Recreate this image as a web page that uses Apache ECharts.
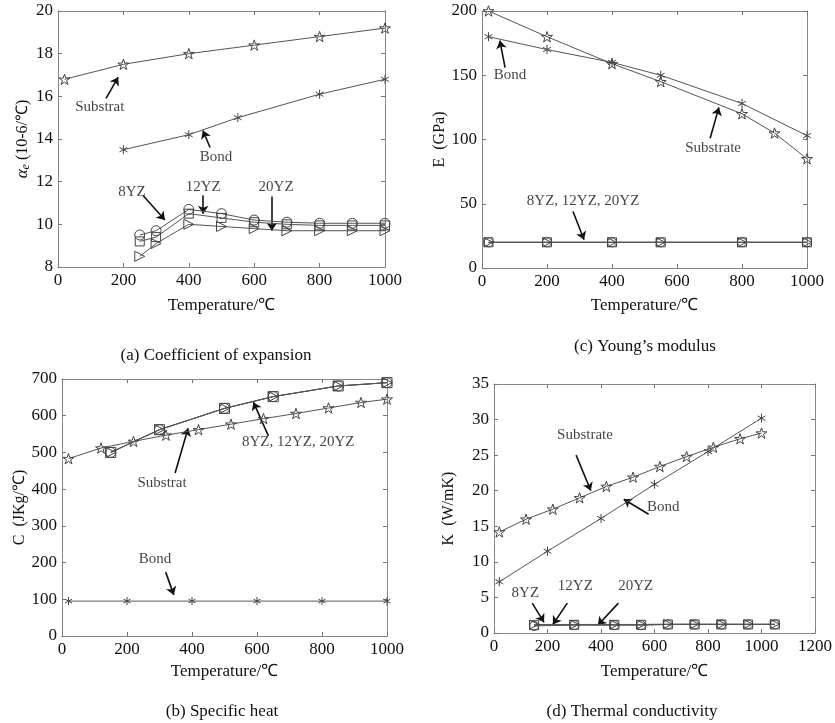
<!DOCTYPE html>
<html>
<head>
<meta charset="utf-8">
<script src="https://cdn.jsdelivr.net/npm/echarts@6/dist/echarts.min.js"></script>
<style>
  html, body { margin: 0; padding: 0; background: #fff; }
  #chart { width: 835px; height: 723px; }
</style>
</head>
<body>
<div id="chart"></div>
<script>
// (a) coefficient of expansion
const aSubX = [20, 200, 400, 600, 800, 1000]
const aSubY = [16.8, 17.5, 18.0, 18.4, 18.8, 19.2]
const aBondX = [200, 400, 550, 800, 1000]
const aBondY = [13.5, 14.2, 15.0, 16.1, 16.8]
const aYzX = [250, 300, 400, 500, 600, 700, 800, 900, 1000]
const a8YZ = [9.5, 9.7, 10.7, 10.5, 10.2, 10.1, 10.05, 10.05, 10.05]
const a12YZ = [9.2, 9.4, 10.5, 10.3, 10.1, 10.0, 9.95, 9.95, 9.95]
const a20YZ = [8.5, 9.1, 10.0, 9.9, 9.8, 9.7, 9.7, 9.7, 9.7]

// (c) young's modulus
const cSubX = [20, 200, 400, 550, 800, 900, 1000]
const cSubY = [200, 180, 159, 145, 120, 105, 85]
const cBondX = [20, 200, 400, 550, 800, 1000]
const cBondY = [180, 170, 160, 150, 128, 103]
const cYzX = [20, 200, 400, 550, 800, 1000]
const c8YZ = [20, 20, 20, 20, 20, 20]
const c12YZ = [20, 20, 20, 20, 20, 20]
const c20YZ = [20, 20, 20, 20, 20, 20]

// (b) specific heat
const bSubX = [20, 120, 220, 320, 420, 520, 620, 720, 820, 920, 1000]
const bSubY = [483, 512, 530, 547, 562, 577, 592, 606, 621, 636, 645]
const bBondX = [20, 200, 400, 600, 800, 1000]
const bBondY = [95, 95, 95, 95, 95, 95]
const bYzX = [150, 300, 500, 650, 850, 1000]
const b8YZ = [500, 562, 620, 652, 681, 690]
const b12YZ = [500, 562, 620, 652, 681, 690]
const b20YZ = [500, 562, 620, 652, 681, 690]

// (d) thermal conductivity
const dSubX = [20, 120, 220, 320, 420, 520, 620, 720, 820, 920, 1000]
const dSubY = [14.2, 16.0, 17.4, 19.0, 20.6, 21.9, 23.4, 24.8, 26.1, 27.3, 28.1]
const dBondX = [20, 200, 400, 600, 800, 1000]
const dBondY = [7.2, 11.5, 16.1, 20.9, 25.5, 30.2]
const dYzX = [150, 300, 450, 550, 650, 750, 850, 950, 1050]
const d8YZ = [1.0, 1.1, 1.1, 1.1, 1.2, 1.2, 1.2, 1.2, 1.2]
const d12YZ = [1.1, 1.15, 1.15, 1.15, 1.2, 1.2, 1.2, 1.2, 1.2]
const d20YZ = [1.2, 1.2, 1.2, 1.2, 1.25, 1.25, 1.25, 1.25, 1.25]

// annotations: text labels and arrows (in data units)
const aNotes = [['Substrat', 128, 15.5], ['Bond', 483, 13.15], ['8YZ', 226, 11.5], ['12YZ', 444, 11.75], ['20YZ', 667, 11.75]]
const aArrows = [[147, 15.9, 184, 16.9], [465, 13.6, 443, 14.4], [260, 11.35, 327, 10.2], [444, 11.35, 444, 10.5], [654, 11.3, 654, 9.7]]
const cNotes = [['Bond', 86, 150], ['Substrate', 711, 93], ['8YZ, 12YZ, 20YZ', 311, 52]]
const cArrows = [[71, 156, 55, 177], [702, 101, 729, 125], [280, 44, 314, 22]]
const bNotes = [['Substrat', 308, 416], ['8YZ, 12YZ, 20YZ', 727, 528], ['Bond', 286, 209]]
const bArrows = [[348, 444, 388, 566], [635, 545, 589, 637], [319, 174, 344, 112]]
const dNotes = [['Substrate', 340, 27.8], ['Bond', 633, 17.7], ['8YZ', 117, 5.6], ['12YZ', 304, 6.6], ['20YZ', 530, 6.6]]
const dArrows = [[307, 25.0, 362, 20.0], [578, 16.7, 485, 18.8], [143, 4.2, 187, 1.5], [274, 4.2, 220, 1.2], [465, 4.2, 388, 1.1]]

const FONT = 'Liberation Serif'
const LINE = '#555'
const STAR = 'path://M0,-1L0.2245,-0.309L0.951,-0.309L0.3633,0.118L0.588,0.809L0,0.382L-0.588,0.809L-0.3633,0.118L-0.951,-0.309L-0.2245,-0.309Z'
const ASTER = 'path://M0,-1L0,1M-0.87,-0.5L0.87,0.5M-0.87,0.5L0.87,-0.5M0,-1Z'
const TRI = 'path://M0,0L1,0.5L0,1Z'

const zip = (xs, ys) => xs.map((x, i) => [x, ys[i]])

const grids = [
  { left: 58, top: 11, width: 327, height: 256 },
  { left: 482, top: 11, width: 325, height: 257 },
  { left: 62, top: 379, width: 325, height: 257 },
  { left: 494, top: 384, width: 328, height: 249 }
]
const xRanges = [[0, 1000], [0, 1000], [0, 1000], [0, 1200]]
const yRanges = [[8, 20, 2], [0, 200, 50], [0, 700, 100], [0, 35, 5]]
const yNames = [
  '{i|α}{s|e} (10-6/℃)',
  'E  (GPa)',
  'C  (JKg/℃)',
  'K  (W/mK)'
]
const yGaps = [26, 31, 34, 37]
const xGaps = [30, 29, 27, 30]

const plain = (v) => String(v)

const xAxis = []
const yAxis = []
grids.forEach((g, i) => {
  const [xmin, xmax] = xRanges[i]
  const [ymin, ymax, yint] = yRanges[i]
  const base = {
    type: 'value',
    gridIndex: i,
    axisLine: { show: true, onZero: false, lineStyle: { color: '#888', width: 1 } },
    axisTick: { show: true, inside: true, length: 4, lineStyle: { color: '#777' } },
    splitLine: { show: false }
  }
  xAxis.push(Object.assign({}, base, {
    min: xmin, max: xmax, interval: 200, position: 'bottom',
    name: 'Temperature/℃', nameLocation: 'middle', nameGap: xGaps[i],
    nameTextStyle: { color: '#111', fontFamily: FONT, fontSize: 17 },
    axisLabel: { color: '#111', fontFamily: FONT, fontSize: 17, margin: 5, formatter: plain }
  }))
  xAxis.push(Object.assign({}, base, {
    min: xmin, max: xmax, interval: 200, position: 'top', axisLabel: { show: false }
  }))
  yAxis.push(Object.assign({}, base, {
    min: ymin, max: ymax, interval: yint, position: 'left',
    name: yNames[i], nameLocation: 'middle', nameGap: yGaps[i], nameRotate: 90,
    nameTextStyle: {
      color: '#111', fontFamily: FONT, fontSize: 16,
      rich: {
        i: { fontFamily: FONT, fontSize: 17, fontStyle: 'italic', color: '#111' },
        s: { fontFamily: FONT, fontSize: 12, fontStyle: 'italic', color: '#111', padding: [6, 0, 0, 0] }
      }
    },
    axisLabel: { color: '#111', fontFamily: FONT, fontSize: 17, margin: 5, formatter: plain }
  }))
  yAxis.push(Object.assign({}, base, {
    min: ymin, max: ymax, interval: yint, position: 'right', axisLabel: { show: false }
  }))
})

function line(i, xs, ys, symbol, size) {
  return {
    type: 'line',
    xAxisIndex: 2 * i,
    yAxisIndex: 2 * i,
    data: zip(xs, ys),
    symbol: symbol,
    symbolSize: size,
    symbolKeepAspect: true,
    showAllSymbol: true,
    lineStyle: { color: LINE, width: 1 },
    itemStyle: { color: 'rgba(255,255,255,0)', borderColor: '#444', borderWidth: 1 },
    animation: false,
    silent: true
  }
}

function notes(i, list) {
  return {
    type: 'scatter',
    xAxisIndex: 2 * i,
    yAxisIndex: 2 * i,
    symbolSize: 1,
    itemStyle: { color: 'rgba(0,0,0,0)' },
    label: {
      show: true, position: 'inside', color: '#111', fontFamily: FONT, fontSize: 15,
      formatter: (p) => p.name
    },
    data: list.map((n) => ({ name: n[0], value: [n[1], n[2]] })),
    animation: false,
    silent: true
  }
}

function arrows(i, list) {
  return {
    type: 'lines',
    coordinateSystem: 'cartesian2d',
    xAxisIndex: 2 * i,
    yAxisIndex: 2 * i,
    symbol: ['none', 'arrow'],
    symbolSize: [0, 8],
    lineStyle: { color: '#111', width: 1.6, opacity: 1 },
    data: list.map((a) => ({ coords: [[a[0], a[1]], [a[2], a[3]]] })),
    animation: false,
    silent: true
  }
}

const series = [
  line(0, aSubX, aSubY, STAR, 11),
  line(0, aBondX, aBondY, ASTER, 9),
  line(0, aYzX, a8YZ, 'circle', 10),
  line(0, aYzX, a12YZ, 'rect', 9),
  line(0, aYzX, a20YZ, TRI, 10),
  notes(0, aNotes), arrows(0, aArrows),

  line(1, cSubX, cSubY, STAR, 11),
  line(1, cBondX, cBondY, ASTER, 9),
  line(1, cYzX, c8YZ, 'circle', 9),
  line(1, cYzX, c12YZ, 'rect', 9),
  line(1, cYzX, c20YZ, TRI, 9),
  notes(1, cNotes), arrows(1, cArrows),

  line(2, bSubX, bSubY, STAR, 11),
  line(2, bBondX, bBondY, ASTER, 8),
  line(2, bYzX, b8YZ, 'circle', 10),
  line(2, bYzX, b12YZ, 'rect', 10),
  line(2, bYzX, b20YZ, TRI, 10),
  notes(2, bNotes), arrows(2, bArrows),

  line(3, dSubX, dSubY, STAR, 11),
  line(3, dBondX, dBondY, ASTER, 9),
  line(3, dYzX, d8YZ, 'circle', 9),
  line(3, dYzX, d12YZ, 'rect', 9),
  line(3, dYzX, d20YZ, TRI, 9),
  notes(3, dNotes), arrows(3, dArrows)
]

const captions = [
  ['(a) Coefficient of expansion', 216, 356],
  ['(c) Young\u2019s modulus', 645, 347],
  ['(b) Specific heat', 222, 712],
  ['(d) Thermal conductivity', 632, 712]
]

const myChart = echarts.init(document.getElementById('chart'))
const option = {
  backgroundColor: '#fff',
  animation: false,
  grid: grids.map((g) => Object.assign({ show: false, containLabel: false }, g)),
  xAxis: xAxis,
  yAxis: yAxis,
  series: series,
  graphic: captions.map((c) => ({
    type: 'text',
    x: c[1],
    y: c[2],
    style: {
      text: c[0], fill: '#111', font: '17px "Liberation Serif"',
      align: 'center', verticalAlign: 'middle', textAlign: 'center', textVerticalAlign: 'middle'
    }
  }))
}
option && myChart.setOption(option)
</script>
</body>
</html>
